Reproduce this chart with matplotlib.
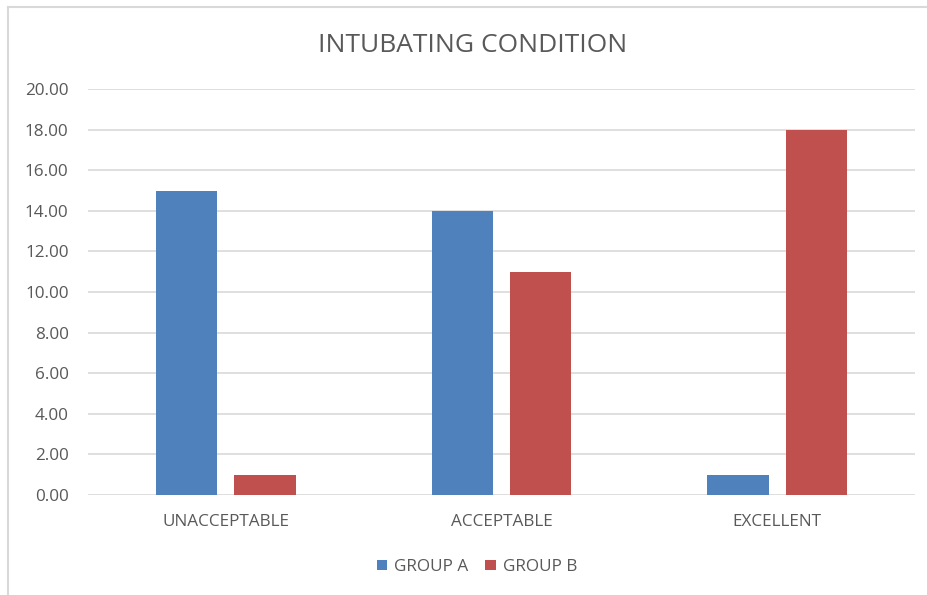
import matplotlib
matplotlib.use("Agg")
import matplotlib.pyplot as plt
from matplotlib.lines import Line2D
import numpy as np

categories = ["UNACCEPTABLE", "ACCEPTABLE", "EXCELLENT"]
group_a = [15, 14, 1]
group_b = [1, 11, 18]
series_names = ["GROUP A", "GROUP B"]
colors = ["#4F81BD", "#C0504D"]
yticks = [0, 2, 4, 6, 8, 10, 12, 14, 16, 18, 20]

plt.rcParams['font.family'] = ['Open Sans', 'DejaVu Sans']
W, H = 928, 595
fig = plt.figure(figsize=(W/100, H/100), dpi=100)
ax = fig.add_axes([88/W, 1-495/H, (915-88)/W, (495-89)/H])

x = np.arange(len(categories))
bw = 0.222
off = 0.142
ax.bar(x - off, group_a, bw, color=colors[0], label=series_names[0], zorder=3)
ax.bar(x + off, group_b, bw, color=colors[1], label=series_names[1], zorder=3)

ax.set_xlim(-0.5, 2.5)
ax.set_ylim(0, 20)
ax.set_yticks(yticks)
ax.set_yticklabels([f"{v:.2f}" for v in yticks])
ax.set_xticks(x)
ax.set_xticklabels(categories)
ax.yaxis.grid(True, color="#D9D9D9", linewidth=1.2, zorder=0)
for s in ax.spines.values():
    s.set_visible(False)
ax.tick_params(axis='both', length=0, colors="#595959", labelsize=12.3)
ax.tick_params(axis='y', pad=14)
ax.tick_params(axis='x', pad=14)

fig.text(473/W, 1-45/H, "INTUBATING CONDITION", ha='center', va='center',
         fontsize=19, color="#595959")

ax.legend(loc='center', bbox_to_anchor=(477/W, 1-567/H), bbox_transform=fig.transFigure,
          ncol=2, frameon=False, fontsize=12.3, labelcolor="#595959",
          handlelength=0.6, handleheight=0.6, handletextpad=0.4, columnspacing=1.0)

# chart border (partially visible)
fig.add_artist(Line2D([8/W, 8/W], [0, 1-7/H], transform=fig.transFigure, color="#D9D9D9", lw=1.5))
fig.add_artist(Line2D([8/W, 1], [1-7/H, 1-7/H], transform=fig.transFigure, color="#D9D9D9", lw=1.5))

fig.savefig("out.png", dpi=100)
